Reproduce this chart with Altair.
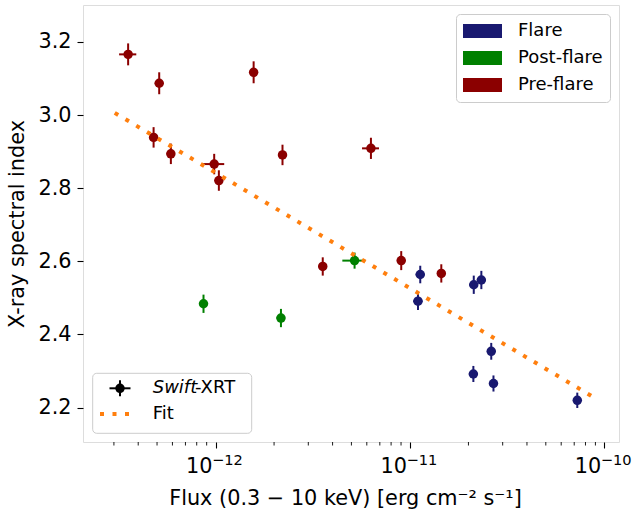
import altair as alt
import pandas as pd

# ---------------- data ----------------
categories = ["Flare", "Post-flare", "Pre-flare"]
cat_colors = ["#191970", "#008000", "#8b0000"]

pre_flux = [3.55e-13, 5.13e-13, 1.57e-12, 4.80e-13, 5.89e-13, 9.84e-13,
            1.04e-12, 2.21e-12, 6.30e-12, 3.56e-12, 9.02e-12, 1.45e-11]
pre_flux_err = [0.36e-13, 0.26e-13, 0.08e-12, 0.24e-13, 0.29e-13, 1.24e-13,
                0.05e-12, 0.11e-12, 0.63e-12, 0.18e-12, 0.45e-12, 0.07e-11]
pre_index = [3.166, 3.087, 3.117, 2.939, 2.894, 2.866,
             2.821, 2.891, 2.909, 2.586, 2.602, 2.567]
pre_index_err = [0.030, 0.030, 0.030, 0.028, 0.028, 0.028,
                 0.028, 0.028, 0.029, 0.025, 0.026, 0.025]

post_flux = [5.19e-12, 8.67e-13, 2.17e-12]
post_flux_err = [0.70e-12, 0.43e-13, 0.11e-12]
post_index = [2.602, 2.484, 2.445]
post_index_err = [0.022, 0.025, 0.025]

flare_flux = [1.13e-11, 2.13e-11, 2.33e-11, 1.10e-11, 2.62e-11, 2.12e-11, 2.69e-11, 7.26e-11]
flare_flux_err = [0.06e-11, 0.11e-11, 0.12e-11, 0.06e-11, 0.13e-11, 0.11e-11, 0.13e-11, 0.36e-11]
flare_index = [2.564, 2.536, 2.549, 2.491, 2.354, 2.292, 2.266, 2.220]
flare_index_err = [0.024, 0.025, 0.025, 0.024, 0.023, 0.022, 0.022, 0.021]

fit_flux = [3.03e-13, 9.1e-11]
fit_index = [3.006, 2.224]

xtick_values = [1e-12, 1e-11, 1e-10]
xtick_base = ["10", "10", "10"]
xtick_exp = ["−12", "−11", "−10"]
minor_ticks = [3e-13, 4e-13, 5e-13, 6e-13, 7e-13, 8e-13, 9e-13,
               2e-12, 3e-12, 4e-12, 5e-12, 6e-12, 7e-12, 8e-12, 9e-12,
               2e-11, 3e-11, 4e-11, 5e-11, 6e-11, 7e-11, 8e-11, 9e-11]
ytick_values = [2.2, 2.4, 2.6, 2.8, 3.0, 3.2]

x_domain = [2.08e-13, 1.19e-10]
y_domain = [2.106, 3.301]

# ---------------- build tables ----------------
rows = []
for name, fl, fe, ix, ie in [
    ("Pre-flare", pre_flux, pre_flux_err, pre_index, pre_index_err),
    ("Post-flare", post_flux, post_flux_err, post_index, post_index_err),
    ("Flare", flare_flux, flare_flux_err, flare_index, flare_index_err),
]:
    for f, e, i, ei in zip(fl, fe, ix, ie):
        rows.append(dict(period=name, flux=f, xlo=f - e, xhi=f + e,
                         index=i, ylo=i - ei, yhi=i + ei))
df = pd.DataFrame(rows)
fit_df = pd.DataFrame({"flux": fit_flux, "index": fit_index})
minor_df = pd.DataFrame({"flux": minor_ticks})
tick_df = pd.DataFrame({"flux": xtick_values, "base": xtick_base, "exp": xtick_exp})
one = pd.DataFrame({"k": [0]})

FONT = "DejaVu Sans"
W, H = 536, 437

xscale = alt.Scale(type="log", domain=x_domain, nice=False)
yscale = alt.Scale(domain=y_domain, nice=False, zero=False)
cscale = alt.Scale(domain=categories, range=cat_colors)

x_axis = alt.Axis(values=xtick_values, labels=False, grid=False, domain=False,
                  tickSize=6, tickColor="black", tickWidth=1.1,
                  title="Flux (0.3 − 10 keV) [erg cm⁻² s⁻¹]",
                  titleFontSize=20.8, titleFontWeight="normal", titleColor="black",
                  titleFont=FONT, titleX=262, titleY=62, titleBaseline="alphabetic",
                  titleAlign="center")
y_axis = alt.Axis(values=ytick_values, format=".1f", grid=False, domain=False,
                  tickSize=6, tickColor="black", tickWidth=1.1, labelPadding=6,
                  labelFontSize=20.8, labelColor="black", labelFont=FONT,
                  title="X-ray spectral index", titleFontSize=20.8,
                  titleFontWeight="normal", titleColor="black", titleFont=FONT,
                  titleX=-59.6, titleY=H / 2, titleAngle=270,
                  titleBaseline="alphabetic", titleAlign="center")

legend = alt.Legend(title=None, orient="top-right", offset=9, padding=7,
                    symbolType="M-1,-0.36H1V0.36H-1Z", symbolSize=1521,
                    symbolStrokeWidth=0, symbolOpacity=1, symbolFillColor="black",
                    clipHeight=20, rowPadding=7, labelFontSize=18, labelFont=FONT,
                    labelColor="black", labelOffset=16, strokeColor="#cccccc",
                    fillColor="white", cornerRadius=4)

color = alt.Color("period:N", scale=cscale, legend=legend)

base = alt.Chart(df)

pts = base.mark_circle(size=90, opacity=1).encode(
    x=alt.X("flux:Q", scale=xscale, axis=x_axis),
    y=alt.Y("index:Q", scale=yscale, axis=y_axis),
    color=color)
xerr = base.mark_rule(strokeWidth=2).encode(
    x=alt.X("xlo:Q", scale=xscale), x2="xhi:Q",
    y=alt.Y("index:Q", scale=yscale), color=color)
yerr = base.mark_rule(strokeWidth=2).encode(
    x=alt.X("flux:Q", scale=xscale), y=alt.Y("ylo:Q", scale=yscale), y2="yhi:Q",
    color=color)

fit = alt.Chart(fit_df).mark_line(color="#ff7f0e", strokeWidth=4,
                                  strokeDash=[4, 8.5], strokeCap="butt").encode(
    x=alt.X("flux:Q", scale=xscale), y=alt.Y("index:Q", scale=yscale))

minor = alt.Chart(minor_df).mark_rule(color="black", strokeWidth=0.9).encode(
    x=alt.X("flux:Q", scale=xscale), y=alt.value(H), y2=alt.value(H + 3.5))

tick_base = alt.Chart(tick_df).mark_text(fontSize=20.8, font=FONT, align="right",
                                         baseline="alphabetic", dx=-3, color="black").encode(
    x=alt.X("flux:Q", scale=xscale), y=alt.value(H + 31), text="base:N")
tick_exp = alt.Chart(tick_df).mark_text(fontSize=14.6, font=FONT, align="left",
                                        baseline="alphabetic", dx=-3.5, color="black").encode(
    x=alt.X("flux:Q", scale=xscale), y=alt.value(H + 23), text="exp:N")

# ---- lower-left legend (Swift-XRT / Fit) ----
lg = alt.Chart(one)
lg_box = lg.mark_rect(fill="white", fillOpacity=0.8, stroke="#cccccc", strokeWidth=1,
                      cornerRadius=4).encode(
    x=alt.value(9.7), x2=alt.value(168.7), y=alt.value(368.3), y2=alt.value(428.3))
lg_xe = lg.mark_rule(color="black", strokeWidth=2).encode(
    x=alt.value(26.5), x2=alt.value(47.5), y=alt.value(383.3))
lg_ye = lg.mark_rule(color="black", strokeWidth=2).encode(
    x=alt.value(37), y=alt.value(375.3), y2=alt.value(391.3))
lg_pt = lg.mark_circle(color="black", size=90, opacity=1).encode(
    x=alt.value(37), y=alt.value(383.3))
lg_fit = lg.mark_rule(color="#ff7f0e", strokeWidth=4, strokeDash=[4, 8.5],
                      strokeCap="butt").encode(
    x=alt.value(17), x2=alt.value(48), y=alt.value(409))
lg_t1 = lg.mark_text(text="Swift", fontStyle="italic", fontSize=18, font=FONT,
                     align="left", baseline="middle", color="black").encode(
    x=alt.value(69.7), y=alt.value(383.3))
lg_t2 = lg.mark_text(text="-XRT", fontSize=18, font=FONT, align="left",
                     baseline="middle", color="black").encode(
    x=alt.value(112), y=alt.value(383.3))
lg_t3 = lg.mark_text(text="Fit", fontSize=18, font=FONT, align="left",
                     baseline="middle", color="black").encode(
    x=alt.value(69.7), y=alt.value(409))

chart = alt.layer(
    pts, xerr, yerr, fit, minor, tick_base, tick_exp,
    lg_box, lg_xe, lg_ye, lg_pt, lg_fit, lg_t1, lg_t2, lg_t3
).properties(
    width=W, height=H,
    autosize=alt.AutoSizeParams(type="none"),
    padding={"left": 83, "top": 5, "right": 17, "bottom": 71},
).configure_view(stroke="black", strokeWidth=1.1).configure(font=FONT)

chart.save("out.html", embed_options={"renderer": "svg", "actions": False})
